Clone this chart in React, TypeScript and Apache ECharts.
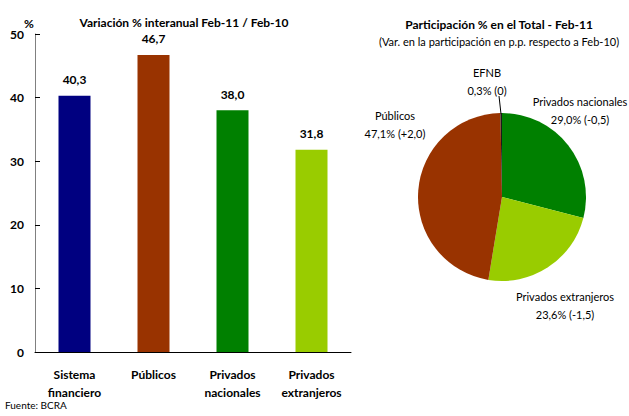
import React, { useEffect, useRef } from "react";
import * as echarts from "echarts";

const barCategories = ["Sistema\nfinanciero", "Públicos", "Privados\nnacionales", "Privados\nextranjeros"];
const barValues = [40.3, 46.7, 38.0, 31.8];
const barColors = ["#000080", "#993300", "#008000", "#99CC00"];

const pieNames = ["Privados nacionales", "Privados extranjeros", "Públicos", "EFNB"];
const pieShares = [29.0, 23.6, 47.1, 0.3];
const pieChanges = ["-0,5", "-1,5", "+2,0", "0"];
const pieColors = ["#008000", "#99CC00", "#993300", "#1a1a1a"];

const FONT = "Lato";

const fmt = (v: number) => v.toFixed(1).replace(".", ",");

export default function App() {
  const ref = useRef<HTMLDivElement>(null);
  useEffect(() => {
    if (!ref.current) return;
    const chart = echarts.init(ref.current, undefined, { renderer: "svg" });
    const labelPos: Record<number, { x: number; y: number }> = {
      0: { x: 580, y: 110 },
      1: { x: 565, y: 305 },
      2: { x: 395, y: 124 },
      3: { x: 487, y: 81 },
    };
    chart.setOption({
      animation: false,
      textStyle: { fontFamily: FONT },
      title: [
        {
          text: "Variación % interanual Feb-11 / Feb-10",
          left: 179,
          top: 11,
          textAlign: "center",
          textStyle: { fontSize: 12, fontWeight: "bold", color: "#000", fontFamily: FONT },
        },
        {
          text: "Participación % en el Total - Feb-11",
          subtext: "(Var. en la participación en p.p. respecto a Feb-10)",
          left: 494,
          top: 13,
          textAlign: "center",
          itemGap: 6,
          textStyle: { fontSize: 12, fontWeight: "bold", color: "#000", fontFamily: FONT },
          subtextStyle: { fontSize: 11, color: "#000", fontFamily: FONT },
        },
        {
          text: "Fuente: BCRA",
          left: 3,
          top: 398,
          padding: 2,
          textStyle: { fontSize: 10, fontWeight: "normal", color: "#000", fontFamily: FONT },
        },
        {
          text: "%",
          left: 24,
          top: 12,
          textAlign: "center",
          textStyle: { fontSize: 12, fontWeight: "bold", color: "#000", fontFamily: FONT },
        },
      ],
      grid: { left: 35, right: 278, top: 34, bottom: 64, containLabel: false },
      xAxis: {
        type: "category",
        data: barCategories,
        axisLine: { show: true, lineStyle: { color: "#000", width: 1 } },
        axisTick: { show: false },
        axisLabel: {
          interval: 0,
          color: "#000",
          fontWeight: "bold",
          fontSize: 12,
          fontFamily: FONT,
          lineHeight: 18,
          margin: 13,
        },
      },
      yAxis: {
        type: "value",
        min: 0,
        max: 50,
        interval: 10,
        splitLine: { show: false },
        axisLine: { show: true, lineStyle: { color: "#808080", width: 1 } },
        axisTick: { show: true, inside: true, length: 5, lineStyle: { color: "#000" } },
        axisLabel: { color: "#000", fontWeight: "bold", fontSize: 12, fontFamily: FONT, margin: 11 },
      },
      series: [
        {
          type: "bar",
          barWidth: 32,
          data: barValues.map((v, i) => ({ value: v, itemStyle: { color: barColors[i] } })),
          label: {
            show: true,
            position: "top",
            distance: 10,
            color: "#000",
            fontWeight: "bold",
            fontSize: 12,
            fontFamily: FONT,
            formatter: (p: any) => fmt(p.value),
          },
        },
        {
          type: "pie",
          center: [502, 197],
          radius: 84,
          startAngle: 90,
          clockwise: true,
          data: pieNames.map((n, i) => ({
            name: n,
            value: pieShares[i],
            itemStyle: { color: pieColors[i] },
            labelLine: { show: i === 3, lineStyle: { color: "#000", width: 1 } },
          })),
          label: {
            show: true,
            position: "outside",
            alignTo: "none",
            overflow: "none",
            width: 200,
            color: "#000",
            fontSize: 11,
            fontFamily: FONT,
            lineHeight: 18,
            align: "center",
            formatter: (p: any) => `${p.name}\n${fmt(pieShares[p.dataIndex])}% (${pieChanges[p.dataIndex]})`,
          },
          labelLine: { show: false, length: 8, length2: 0 },
          labelLayout: (p: any) => {
            const pos = labelPos[p.dataIndex];
            const out: any = { x: pos.x, y: pos.y, align: "center", verticalAlign: "middle" };
            if (p.dataIndex === 3) {
              out.labelLinePoints = [
                [501, 114],
                [499, 96],
                [499, 96],
              ];
            }
            return out;
          },
        },
      ],
    });
    return () => chart.dispose();
  }, []);
  return <div ref={ref} style={{ position: "absolute", left: 0, top: 0, width: 629, height: 416 }} />;
}
